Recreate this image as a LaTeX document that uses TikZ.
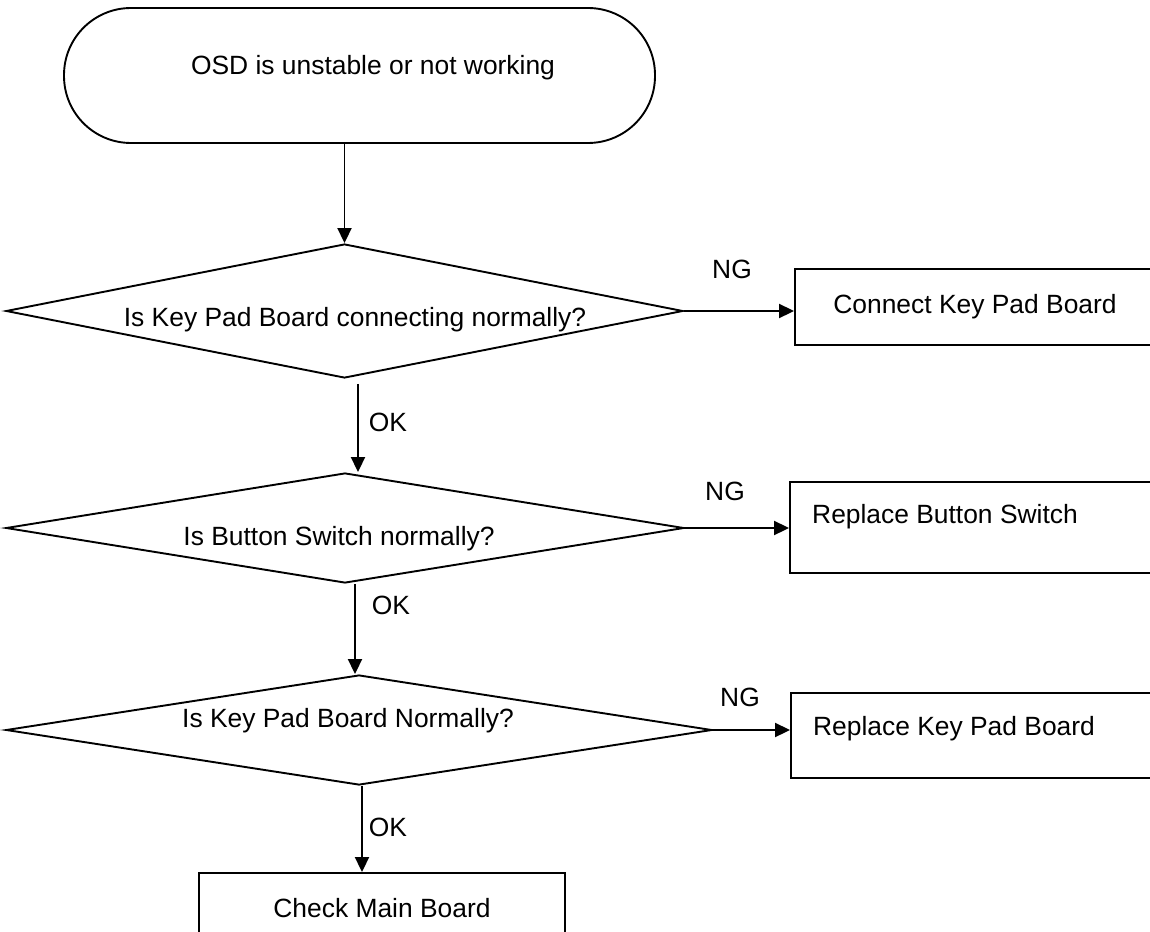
\documentclass[tikz,border=0pt]{standalone}
\usepackage{fontspec}
\setmainfont{Liberation Sans}
\usetikzlibrary{shapes.geometric,arrows.meta}

\tikzset{
  flowline/.style={line width=1.9pt},
  flowarrow/.style={flowline,-{Triangle[length=15pt,width=14pt]}},
  decision/.style={diamond,draw,flowline,inner sep=0pt},
  actionbox/.style={rectangle,draw,flowline,inner sep=0pt},
  lbl/.style={font=\fontsize{26.4pt}{31pt}\selectfont,inner sep=0pt}
}

\begin{document}
\begin{tikzpicture}[x=1pt,y=-1pt,every label/.style={lbl}]
    \useasboundingbox (0,0) rectangle (1150,931);
    \clip (0,0) rectangle (1150,931);

    \node[actionbox,rounded corners=67pt,minimum width=591pt,minimum height=135pt,
          label={[xshift=13.5pt,yshift=7.5pt]center:OSD is unstable or not working}] (start) at (359.5,75.5) {};

    \node[decision,minimum width=677pt,minimum height=134pt,
          label={[xshift=10.5pt,yshift=-9pt]center:Is Key Pad Board connecting normally?}] (keypadconn) at (344.5,311) {};
    \node[decision,minimum width=678pt,minimum height=110pt,
          label={[xshift=-6pt,yshift=-11pt]center:Is Button Switch normally?}] (buttonsw) at (345,528) {};
    \node[decision,minimum width=706pt,minimum height=110pt,
          label={[xshift=-11pt,yshift=9pt]center:Is Key Pad Board Normally?}] (keypadok) at (359,730) {};

    \node[actionbox,lbl,minimum width=360pt,minimum height=76pt] (connect) at (975,307) {Connect Key Pad Board};
    \node[actionbox,minimum width=365pt,minimum height=91pt,
          label={[xshift=-27.5pt,yshift=10.5pt]center:Replace Button Switch}] (replbtn) at (972.5,527.5) {};
    \node[actionbox,minimum width=364pt,minimum height=85pt,
          label={[xshift=-19pt,yshift=6.5pt]center:Replace Key Pad Board}] (replkey) at (973,735.5) {};
    \node[actionbox,lbl,minimum width=366pt,minimum height=70pt] (mainbrd) at (382,908) {Check Main Board};

    \draw[flowarrow] (start.south -| keypadconn.north) -- (keypadconn.north);
    \draw[flowarrow] ([xshift=13.5pt,yshift=-5pt]keypadconn.south) -- ([xshift=13pt]buttonsw.north);
    \draw[flowarrow] ([xshift=10pt]buttonsw.south) -- ([xshift=-4pt]keypadok.north);
    \draw[flowarrow] ([xshift=3pt]keypadok.south) -- ([xshift=3pt]keypadok.south |- mainbrd.north);

    \draw[flowarrow] (keypadconn.east) -- (keypadconn.east -| connect.west);
    \draw[flowarrow] (buttonsw.east) -- (buttonsw.east -| replbtn.west);
    \draw[flowarrow] (keypadok.east) -- (keypadok.east -| replkey.west);

    \node[lbl] (ng1) at (732,269) {NG};
    \node[lbl] (ng2) at (725,491) {NG};
    \node[lbl] (ng3) at (740,697) {NG};
    \node[lbl] (ok1) at (388,422) {OK};
    \node[lbl] (ok2) at (391,605) {OK};
    \node[lbl] (ok3) at (388,827) {OK};
\end{tikzpicture}
\end{document}
